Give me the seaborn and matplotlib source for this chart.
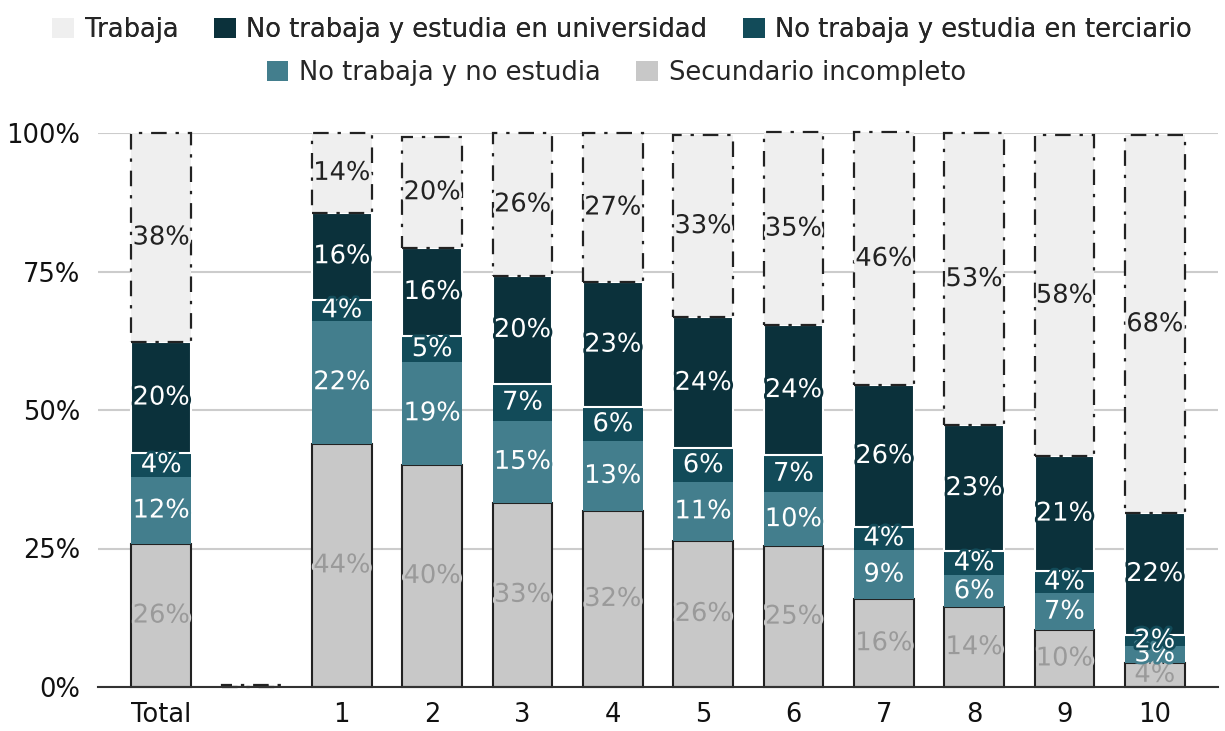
import matplotlib
matplotlib.use("Agg")
import matplotlib.pyplot as plt
import matplotlib.patheffects as pe
from matplotlib.patches import Patch
import seaborn as sns
import numpy as np
import pandas as pd

grupos = ["Total", "", "1", "2", "3", "4", "5", "6", "7", "8", "9", "10"]

secundario = [25.8, 0, 43.9, 40.1, 33.3, 31.8, 26.4, 25.4, 15.8, 14.4, 10.3, 4.4]
no_estudia = [12.1, 0, 22.2, 18.6, 14.7, 12.6, 10.6, 9.8, 9.0, 5.8, 6.6, 3.0]
terciario = [4.3, 0, 3.8, 4.6, 6.7, 6.1, 6.1, 6.6, 4.1, 4.3, 4.0, 2.0]
universidad = [20.1, 0, 15.7, 16.0, 19.5, 22.6, 23.6, 23.6, 25.6, 22.8, 20.8, 22.0]
trabaja = [37.7, 0.4, 14.4, 20.0, 25.8, 26.9, 33.0, 34.7, 45.6, 52.7, 57.9, 68.2]

capas = ["Secundario incompleto", "No trabaja y no estudia",
         "No trabaja y estudia en terciario", "No trabaja y estudia en universidad",
         "Trabaja"]
valores = [secundario, no_estudia, terciario, universidad, trabaja]
colores = ["#c8c8c8", "#437e8d", "#124b59", "#0b313b", "#efefef"]
color_texto = ["#9a9a9a", "white", "white", "white", "#222222"]
bordes = [dict(edgecolor="#222222", linewidth=1.5, linestyle="-"),
          dict(edgecolor="none", linewidth=0),
          dict(edgecolor="none", linewidth=0),
          dict(edgecolor="white", linewidth=1.5, linestyle="-"),
          dict(edgecolor="#222222", linewidth=1.6, linestyle=(0, (7, 4, 1.5, 4)))]

df = pd.DataFrame({"grupo": grupos})
for nombre, vals in zip(capas, valores):
    df[nombre] = vals

sns.set_style("white")
plt.rcParams["font.family"] = ["DejaVu Sans"]

fig = plt.figure(figsize=(12.25, 7.31), dpi=100)
ax = fig.add_axes([98 / 1225, 44 / 731, 1120 / 1225, 554 / 731])

base = np.zeros(len(grupos))
for i, nombre in enumerate(capas):
    sns.barplot(data=df, x="grupo", y=nombre, order=grupos, bottom=base.copy(),
                color=colores[i], saturation=1, width=0.66, errorbar=None,
                ax=ax, **bordes[i])
    cont = ax.containers[-1]
    for j, barra in enumerate(cont.patches):
        barra.set_clip_on(False)
        h = df[nombre].iloc[j]
        if h == 0:
            barra.set_linewidth(0)
        if h >= 1:
            efecto = [pe.withStroke(linewidth=4, foreground=colores[i])]
            ax.text(j, base[j] + h / 2, f"{h:.0f}%", ha="center", va="center",
                    fontsize=18.5, color=color_texto[i], path_effects=efecto)
    base += df[nombre].values

ax.set_xlim(-0.7, 11.7)
ax.set_ylim(0, 100)
ax.set_yticks([0, 25, 50, 75, 100])
ax.set_yticklabels(["0%", "25%", "50%", "75%", "100%"])
ax.set_xlabel("")
ax.set_ylabel("")
ax.yaxis.grid(True, color="#cccccc", linewidth=1.5)
ax.set_axisbelow(True)
ax.tick_params(axis="both", length=0, labelsize=18.5, colors="#111111")
ax.tick_params(axis="x", pad=11)
ax.tick_params(axis="y", pad=13)
for lado in ["left", "right", "top"]:
    ax.spines[lado].set_visible(False)
ax.spines["bottom"].set_color("#333333")
ax.spines["bottom"].set_linewidth(1.5)

fila1 = [4, 3, 2]
fila2 = [1, 0]
h1 = [Patch(facecolor=colores[k], edgecolor="none", label=capas[k]) for k in fila1]
h2 = [Patch(facecolor=colores[k], edgecolor="none", label=capas[k]) for k in fila2]
kw = dict(frameon=False, fontsize=18.5, handlelength=0.85, handleheight=0.85,
          handletextpad=0.4, columnspacing=1.4, loc="center")
leg1 = fig.legend(handles=h1, ncol=3, bbox_to_anchor=(0.508, 1 - 30 / 731), **kw)
fig.add_artist(leg1)
fig.legend(handles=h2, ncol=2, bbox_to_anchor=(0.503, 1 - 73 / 731), **kw)

fig.savefig("out.png", dpi=100)
